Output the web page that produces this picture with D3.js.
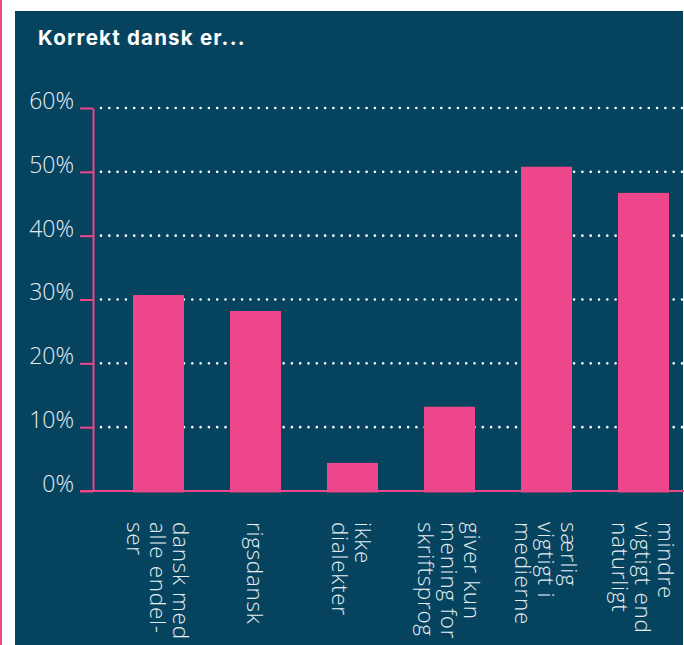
<!DOCTYPE html>
<html><head><meta charset="utf-8">
<script src="https://cdn.jsdelivr.net/npm/d3@7"></script>
<style>
html,body{margin:0;padding:0;background:#fff;}
svg{display:block;}
</style></head>
<body>
<script>
const title = "Korrekt dansk er...";
const categories = [
  ["dansk med","alle endel-","ser"],
  ["rigsdansk"],
  ["ikke","dialekter"],
  ["giver kun","mening for","skriftsprog"],
  ["særlig","vigtigt i","medierne"],
  ["mindre","vigtigt end","naturligt"]
];
const values = [30.7, 28.2, 4.4, 13.2, 50.8, 46.7];
const yTicks = [0, 10, 20, 30, 40, 50, 60];

const W = 684, H = 645;
const bg = "#05435F", pink = "#EE468A";
const svg = d3.select("body").append("svg").attr("width", W).attr("height", H);

svg.append("rect").attr("x",0).attr("y",0).attr("width",2).attr("height",H).attr("fill",pink);
svg.append("rect").attr("x",15).attr("y",11).attr("width",668).attr("height",H-11).attr("fill",bg);

svg.append("text").attr("x",38).attr("y",45).text(title)
  .attr("fill","#fff").attr("font-family","Inter, 'Open Sans', sans-serif")
  .attr("font-weight",700).attr("font-size",20.5).attr("letter-spacing",1.2);

const y = d3.scaleLinear().domain([0,60]).range([491,108]);
const x = d3.scaleBand().domain(d3.range(categories.length)).range([110,692])
  .paddingInner(0.474).paddingOuter(0.237);

// dotted gridlines
svg.append("g").selectAll("line").data(yTicks.filter(d=>d>0)).join("line")
  .attr("x1",101).attr("x2",684).attr("y1",d=>y(d)).attr("y2",d=>y(d))
  .attr("stroke","#fff").attr("stroke-width",2.6).attr("stroke-linecap","round")
  .attr("stroke-dasharray","0 8.3");

// bars
svg.append("g").selectAll("rect").data(values).join("rect")
  .attr("x",(d,i)=>x(i)).attr("width",x.bandwidth())
  .attr("y",d=>y(d)).attr("height",d=>y(0)-y(d)+1.5).attr("fill",pink);

// y axis
const yAxis = d3.axisLeft(y).tickValues(yTicks).tickFormat(d=>d+"%").tickSize(13).tickSizeOuter(0);
const ag = svg.append("g").attr("transform","translate(93,0)").call(yAxis);
ag.select(".domain").attr("stroke",pink).attr("stroke-width",2);
ag.selectAll(".tick line").attr("stroke",pink).attr("stroke-width",2);
ag.selectAll(".tick text").attr("fill","#e6eef2").attr("font-family","'Open Sans', sans-serif")
  .attr("font-weight",300).attr("font-size",23).attr("x",-19).attr("dy","0.02em");

// baseline
svg.append("line").attr("x1",80).attr("x2",684).attr("y1",y(0)).attr("y2",y(0))
  .attr("stroke",pink).attr("stroke-width",2);

// category labels
const lh = 23;
const lg = svg.append("g").selectAll("g").data(categories).join("g")
  .attr("transform",(d,i)=>{
    const cx = x(i)+x.bandwidth()/2 + (d.length-1)*lh/2 - 9;
    return `translate(${cx},522) rotate(90)`;
  });
lg.each(function(lines){
  const t = d3.select(this).append("text").attr("fill","#e6eef2")
    .attr("font-family","'Open Sans', sans-serif").attr("font-weight",300).attr("font-size",22.5)
    .attr("letter-spacing",0.7);
  lines.forEach((s,j)=>t.append("tspan").attr("x",0).attr("y",j*lh).text(s));
});
</script>
</body></html>
